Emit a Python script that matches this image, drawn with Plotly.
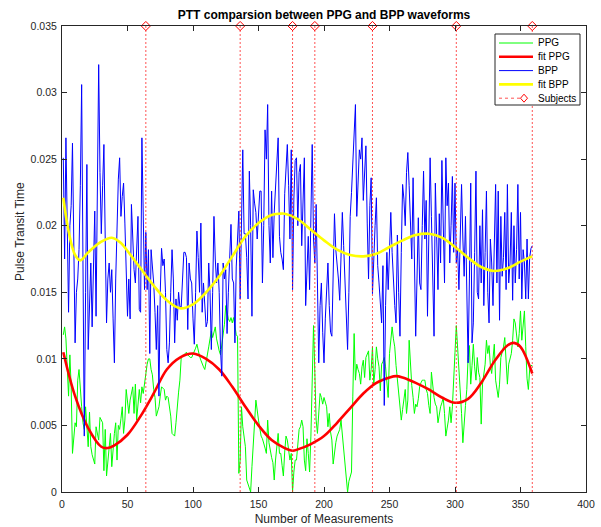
import plotly.graph_objects as go

# ---------------- data (values in units of 1e-4 s) ----------------
# BPP pulse transit time, measurements 1..359
bpp_e4 = [
    251, 175, 266, 180, 135, 200, 215, 262, 190, 112,
    150, 160, 182, 230, 306, 180, 42, 150, 246, 107,
    150, 172, 124, 180, 211, 132, 250, 321, 240, 194,
    230, 261, 190, 127, 160, 172, 150, 167, 130, 97,
    160, 211, 235, 251, 207, 222, 232, 202, 170, 132,
    160, 130, 216, 190, 167, 157, 185, 207, 137, 135,
    266, 200, 152, 195, 152, 182, 104, 182, 170, 157,
    135, 107, 140, 72, 150, 183, 170, 175, 150, 107,
    97, 112, 150, 182, 160, 112, 145, 129, 150, 139,
    139, 165, 180, 180, 176, 122, 172, 160, 157, 130,
    111, 150, 196, 176, 150, 202, 135, 157, 140, 124,
    128, 172, 150, 107, 150, 207, 175, 157, 172, 150,
    107, 87, 172, 160, 167, 119, 150, 185, 201, 160,
    157, 112, 169, 190, 211, 145, 200, 257, 194, 194,
    176, 145, 241, 200, 132, 227, 217, 210, 190, 209,
    226, 226, 157, 200, 272, 250, 291, 200, 172, 226,
    176, 210, 232, 250, 266, 192, 180, 175, 167, 224,
    240, 261, 230, 190, 257, 152, 220, 249, 251, 200,
    240, 246, 185, 230, 251, 140, 165, 192, 152, 200,
    261, 190, 172, 216, 150, 97, 140, 157, 120, 97,
    130, 150, 172, 140, 120, 117, 170, 209, 182, 172,
    160, 144, 180, 210, 185, 162, 140, 107, 150, 207,
    225, 246, 270, 291, 207, 230, 257, 250, 266, 219,
    240, 260, 202, 160, 215, 236, 149, 180, 200, 221,
    170, 157, 140, 127, 170, 65, 140, 180, 152, 190,
    210, 180, 157, 140, 127, 193, 150, 117, 180, 231,
    220, 200, 240, 255, 230, 207, 175, 236, 182, 117,
    160, 206, 157, 152, 200, 241, 190, 219, 132, 180,
    251, 207, 150, 117, 232, 194, 152, 209, 172, 249,
    200, 157, 251, 215, 232, 172, 200, 237, 180, 232,
    172, 182, 152, 200, 231, 190, 162, 207, 130, 97,
    160, 232, 112, 127, 180, 241, 150, 145, 200, 157,
    212, 140, 180, 226, 150, 127, 190, 172, 140, 200,
    231, 157, 226, 129, 207, 162, 176, 210, 152, 231,
    157, 172, 210, 144, 200, 157, 182, 231, 160, 210,
    145, 182, 172, 145, 190, 145, 176, 183, 185,
]

# PPG pulse transit time, measurements 1..359
ppg_e4 = [
    118, 124, 115, 90, 72, 103, 79, 29, 45, 52,
    49, 84, 92, 75, 64, 52, 47, 64, 45, 34,
    60, 34, 28, 24, 21, 49, 44, 39, 56, 54,
    52, 16, 47, 12, 25, 34, 44, 19, 36, 44,
    52, 24, 50, 47, 55, 64, 44, 54, 77, 65,
    59, 69, 74, 79, 59, 81, 54, 70, 77, 67,
    79, 74, 82, 88, 96, 100, 100, 92, 88, 77,
    71, 57, 60, 64, 72, 79, 78, 77, 69, 72,
    71, 65, 57, 44, 43, 42, 52, 66, 75, 84,
    101, 102, 103, 104, 105, 103, 102, 101, 101, 103,
    105, 108, 111, 105, 102, 99, 96, 94, 92, 99,
    104, 109, 115, 121, 116, 120, 124, 115, 109, 106,
    103, 110, 115, 126, 140, 134, 130, 128, 131, 127,
    131, 125, 118, 117, 14, 24, 64, 49, 40, 34,
    9, 6, 4, 0, 19, 40, 52, 69, 60, 54,
    48, 42, 40, 37, 33, 29, 54, 37, 30, 26,
    22, 9, 24, 35, 44, 29, 29, 20, 12, 30,
    42, 39, 30, 24, 29, 0, 15, 24, 24, 35,
    47, 49, 54, 49, 24, 16, 40, 29, 15, 42,
    80, 125, 90, 54, 44, 60, 74, 71, 66, 71,
    68, 64, 49, 59, 45, 39, 21, 32, 37, 42,
    45, 47, 54, 42, 30, 19, 6, 0, 8, 12,
    15, 72, 119, 84, 96, 92, 89, 81, 94, 99,
    86, 101, 104, 106, 84, 92, 109, 81, 92, 109,
    100, 94, 76, 96, 98, 101, 94, 82, 71, 104,
    115, 124, 115, 109, 95, 84, 71, 62, 54, 62,
    70, 77, 59, 69, 114, 96, 80, 71, 59, 66,
    64, 70, 79, 82, 84, 84, 84, 77, 74, 65,
    59, 90, 77, 71, 66, 64, 52, 59, 64, 67,
    71, 59, 42, 48, 54, 64, 52, 64, 90, 105,
    125, 109, 95, 84, 59, 37, 54, 65, 77, 101,
    110, 81, 95, 111, 94, 84, 101, 90, 86, 51,
    81, 90, 96, 114, 104, 110, 95, 89, 101, 111,
    84, 78, 71, 81, 101, 105, 109, 116, 94, 81,
    96, 100, 104, 114, 130, 127, 118, 109, 119, 136,
    114, 125, 136, 109, 85, 77, 92, 95, 95,
]

# fitted curves (read at sample measurements)
fit_ppg_x = [1, 10, 20, 30, 35, 40, 50, 60, 70, 80, 90, 100, 110, 120, 130, 140,
             150, 160, 170, 176, 180, 190, 200, 210, 220, 230, 240, 250, 255, 260,
             270, 280, 290, 300, 310, 320, 330, 340, 345, 350, 359]
fit_ppg_e4 = [105, 72, 48, 34, 33, 35, 43, 57, 74, 92, 101, 104, 100, 92, 79, 64,
              50, 39, 33, 31, 32, 36, 42, 52, 63, 74, 82, 86, 87, 86,
              82, 77, 71, 67, 70, 82, 98, 110, 112, 109, 89]

fit_bpp_x = [1, 5, 10, 14, 20, 30, 38, 45, 50, 60, 70, 80, 90, 100, 110, 120, 130,
             140, 150, 160, 166, 170, 180, 190, 200, 210, 220, 230, 240, 250, 260,
             270, 280, 290, 300, 310, 320, 330, 340, 350, 359]
fit_bpp_e4 = [221, 196, 178, 174, 180, 188, 191, 187, 181, 168, 155, 144, 138, 141,
              150, 162, 177, 192, 202, 208, 209, 209, 205, 197, 189, 182, 178, 177,
              179, 184, 189, 193, 194, 191, 184, 176, 169, 166, 168, 173, 177]

# subject boundaries (stem positions and height)
subjects_x = [64, 136, 176, 193, 237, 301, 359]
subjects_y = [0.035, 0.035, 0.035, 0.035, 0.035, 0.035, 0.035]

legend_labels = ["PPG", "fit PPG", "BPP", "fit BPP", "Subjects"]

UNIT = 1e-4
ppg = [v * UNIT for v in ppg_e4]
bpp = [v * UNIT for v in bpp_e4]
fit_ppg = [v * UNIT for v in fit_ppg_e4]
fit_bpp = [v * UNIT for v in fit_bpp_e4]
x_ppg = list(range(1, len(ppg) + 1))
x_bpp = list(range(1, len(bpp) + 1))

FONT = "Liberation Sans, Arial, Helvetica, sans-serif"
AXC = "#262626"
C_PPG, C_FPPG, C_BPP, C_FBPP, C_SUB = "#00ff00", "#ff0000", "#0000ff", "#ffff00", "#ff0000"
STEM_COLOR = "rgba(255,40,40,0.8)"

fig = go.Figure()
fig.add_trace(go.Scatter(x=x_ppg, y=ppg, mode="lines", name=legend_labels[0],
                         line=dict(color=C_PPG, width=1)))
fig.add_trace(go.Scatter(x=fit_ppg_x, y=fit_ppg, mode="lines", name=legend_labels[1],
                         line=dict(color=C_FPPG, width=2.6, shape="spline")))
fig.add_trace(go.Scatter(x=x_bpp, y=bpp, mode="lines", name=legend_labels[2],
                         line=dict(color=C_BPP, width=1)))
fig.add_trace(go.Scatter(x=fit_bpp_x, y=fit_bpp, mode="lines", name=legend_labels[3],
                         line=dict(color=C_FBPP, width=2.6, shape="spline")))

# stems for subjects
sx, sy = [], []
for xv, yv in zip(subjects_x, subjects_y):
    sx += [xv, xv, None]
    sy += [0, yv, None]
fig.add_trace(go.Scatter(x=sx, y=sy, mode="lines", name=legend_labels[4], hoverinfo="skip",
                         line=dict(color=STEM_COLOR, width=1, dash="2px,2px")))
fig.add_trace(go.Scatter(x=subjects_x, y=subjects_y, mode="markers", name=legend_labels[4],
                         cliponaxis=False,
                         marker=dict(symbol="diamond-open", size=7, color=C_SUB,
                                     line=dict(width=1, color=C_SUB))))
fig.update_traces(showlegend=False)

# ---------------- layout geometry (pixels) ----------------
PLOT_L, PLOT_R, PLOT_T, PLOT_B = 62, 586, 26, 492
W, H = PLOT_R - PLOT_L, PLOT_B - PLOT_T


def px_x(p):
    return (p - PLOT_L) / W


def px_y(p):
    return (PLOT_B - p) / H


# MATLAB-style legend box
shapes = [dict(type="rect", xref="paper", yref="paper",
               x0=px_x(495), x1=px_x(580), y0=px_y(105), y1=px_y(34),
               line=dict(color=AXC, width=1), fillcolor="white", layer="above")]
annotations = []
rows_py = [43, 56.8, 70.6, 84.4, 98.2]
styles = [(C_PPG, 1, "solid"), (C_FPPG, 2.6, "solid"), (C_BPP, 1, "solid"),
          (C_FBPP, 2.6, "solid"), (STEM_COLOR, 1, "dot")]
for lab, py, (col, wd, ds) in zip(legend_labels, rows_py, styles):
    x_end = 533 if ds == "solid" else 521
    shapes.append(dict(type="line", xref="paper", yref="paper",
                       x0=px_x(499), x1=px_x(x_end), y0=px_y(py), y1=px_y(py),
                       line=dict(color=col, width=wd, dash=ds), layer="above"))
    annotations.append(dict(text=lab, xref="paper", yref="paper", x=px_x(536), y=px_y(py),
                            xanchor="left", yanchor="middle", showarrow=False,
                            font=dict(family=FONT, size=10, color="black")))
shapes.append(dict(type="path", xref="paper", yref="paper",
                   xsizemode="pixel", ysizemode="pixel",
                   xanchor=px_x(524), yanchor=px_y(rows_py[4]),
                   path="M -3.5 0 L 0 4 L 3.5 0 L 0 -4 Z",
                   line=dict(color=C_SUB, width=1), fillcolor="rgba(0,0,0,0)", layer="above"))

# y-axis label
annotations.append(dict(text="Pulse Transit Time", xref="paper", yref="paper",
                        x=px_x(20), y=px_y(232), xanchor="center", yanchor="middle",
                        textangle=-90, showarrow=False,
                        font=dict(family=FONT, size=12, color=AXC)))

axis_common = dict(showline=True, linecolor=AXC, linewidth=1, mirror="ticks",
                   ticks="inside", ticklen=5, tickcolor=AXC, showgrid=False,
                   zeroline=False, automargin=False,
                   tickfont=dict(family=FONT, size=10.5, color=AXC))

fig.update_layout(
    width=601, height=527,
    margin=dict(l=PLOT_L, r=601 - PLOT_R, t=PLOT_T, b=527 - PLOT_B),
    paper_bgcolor="white", plot_bgcolor="white",
    font=dict(family=FONT, size=10, color=AXC),
    title=dict(text="<b>PTT comparsion between PPG and BPP waveforms</b>",
               font=dict(family=FONT, size=12, color="black"),
               x=0.5, xref="paper", xanchor="center",
               y=1 - 15 / 527, yref="container", yanchor="middle"),
    xaxis=dict(range=[0, 400], dtick=50, tick0=0, ticklabelstandoff=2,
               title=dict(text="Number of Measurements", standoff=6,
                          font=dict(family=FONT, size=12, color=AXC)),
               **axis_common),
    yaxis=dict(range=[0, 0.035], dtick=0.005, tick0=0, ticklabelstandoff=2,
               **axis_common),
    shapes=shapes,
    annotations=annotations,
    showlegend=False,
)

fig.write_html("out.html", config={"displayModeBar": False},
               post_script="document.body.style.margin='0';document.body.style.overflow='hidden';")
